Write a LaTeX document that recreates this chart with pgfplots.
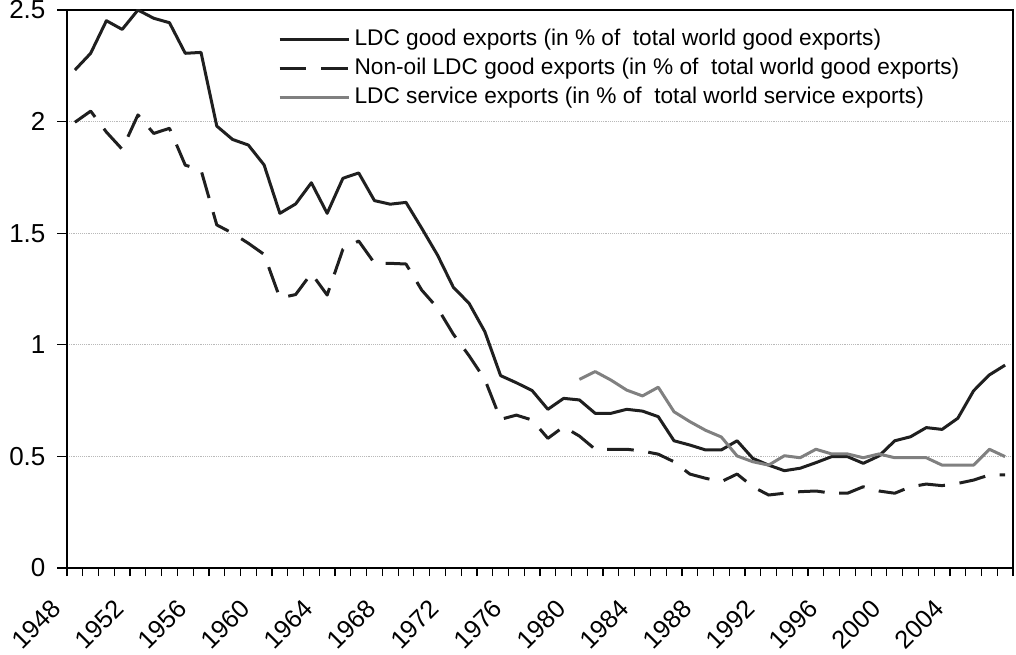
\documentclass[border=0pt]{standalone}
\usepackage{fontspec}
\setmainfont{Liberation Sans}
\usepackage{pgfplots}
\pgfplotsset{compat=1.18}

\newcommand{\legfont}{\fontsize{17pt}{20pt}\selectfont}
\newcommand{\tickfont}{\fontsize{19.5pt}{22pt}\selectfont}
\newcommand{\yearfont}{\fontsize{19pt}{22pt}\selectfont}

\begin{document}
\begin{tikzpicture}
\begin{axis}[
  scale only axis, width=709.5pt, height=418.5pt,
  xmin=1947.5, xmax=2007.5, ymin=0, ymax=2.5,
  axis line style={line width=0.9pt},
  xtick={1948,1952,...,2004},
  minor xtick={1947.5,1948.5,...,2007.5},
  major x tick style={draw=none},
  minor tick length=6pt,
  major tick length=7.5pt,
  tick style={black, line width=0.9pt},
  tick align=outside, xtick pos=bottom, ytick pos=left,
  ytick={0,0.5,...,2.5},
  ymajorgrids, grid style={gray!55, densely dotted, line width=0.6pt},
  /pgf/number format/.cd, 1000 sep={}, assume math mode=true, /pgfplots/.cd,
  tick label style={font=\tickfont, inner sep=0pt},
  x tick label style={font=\yearfont, xshift=-13.8pt, yshift=-19.9pt, rotate=45, anchor=east},
  y tick label style={anchor=east, xshift=-8.5pt},
  legend style={at={(rel axis cs:0.223,0.974)}, anchor=north west,
    draw=none, fill=none, inner sep=0pt, font=\legfont,
    nodes={text height=12.5pt, text depth=3.5pt, inner ysep=2.9pt, inner xsep=3pt}},
  legend cell align=left,
  legend image code/.code={\draw[#1] (0pt,0pt) -- (52pt,0pt);},
]
\addplot[line width=2.25pt, line join=round, color=black!88] coordinates {
(1948,2.231)(1949,2.306)(1950,2.452)(1951,2.413)(1952,2.500)(1953,2.463)
(1954,2.443)(1955,2.306)(1956,2.310)(1957,1.980)(1958,1.920)(1959,1.895)
(1960,1.806)(1961,1.589)(1962,1.631)(1963,1.726)(1964,1.589)(1965,1.746)
(1966,1.770)(1967,1.646)(1968,1.630)(1969,1.638)(1970,1.522)(1971,1.402)
(1972,1.258)(1973,1.186)(1974,1.059)(1975,0.862)(1976,0.830)(1977,0.795)
(1978,0.711)(1979,0.760)(1980,0.753)(1981,0.693)(1982,0.693)(1983,0.711)
(1984,0.703)(1985,0.678)(1986,0.570)(1987,0.551)(1988,0.529)(1989,0.529)
(1990,0.570)(1991,0.491)(1992,0.461)(1993,0.436)(1994,0.447)(1995,0.472)
(1996,0.499)(1997,0.499)(1998,0.469)(1999,0.502)(2000,0.570)(2001,0.588)
(2002,0.629)(2003,0.621)(2004,0.671)(2005,0.794)(2006,0.865)(2007,0.909)
};
\addlegendentry{LDC good exports (in \% of\ \ total world good exports)}
\addplot[line width=2.25pt, line join=round, color=black!88, dash pattern=on 20pt off 11pt] coordinates {
(1948,1.997)(1949,2.047)(1950,1.953)(1951,1.876)(1952,2.030)(1953,1.947)
(1954,1.970)(1955,1.805)(1956,1.783)(1957,1.537)(1958,1.500)(1959,1.455)
(1960,1.405)(1961,1.210)(1962,1.225)(1963,1.320)(1964,1.223)(1965,1.428)
(1966,1.465)(1967,1.366)(1968,1.365)(1969,1.362)(1970,1.245)(1971,1.165)
(1972,1.048)(1973,0.951)(1974,0.845)(1975,0.666)(1976,0.685)(1977,0.663)
(1978,0.581)(1979,0.633)(1980,0.591)(1981,0.532)(1982,0.532)(1983,0.532)
(1984,0.524)(1985,0.510)(1986,0.476)(1987,0.421)(1988,0.402)(1989,0.387)
(1990,0.421)(1991,0.364)(1992,0.327)(1993,0.335)(1994,0.342)(1995,0.345)
(1996,0.335)(1997,0.335)(1998,0.364)(1999,0.345)(2000,0.335)(2001,0.364)
(2002,0.376)(2003,0.369)(2004,0.379)(2005,0.394)(2006,0.417)(2007,0.417)
};
\addlegendentry{Non-oil LDC good exports (in \% of\ \ total world good exports)}
\addplot[line width=2.25pt, line join=round, color=black!50] coordinates {
(1980,0.845)(1981,0.880)(1982,0.842)(1983,0.797)(1984,0.771)(1985,0.810)
(1986,0.700)(1987,0.656)(1988,0.617)(1989,0.587)(1990,0.502)(1991,0.476)
(1992,0.461)(1993,0.503)(1994,0.494)(1995,0.532)(1996,0.511)(1997,0.511)
(1998,0.494)(1999,0.511)(2000,0.494)(2001,0.494)(2002,0.494)(2003,0.461)
(2004,0.461)(2005,0.461)(2006,0.532)(2007,0.499)
};
\addlegendentry{LDC service exports (in \% of\ \ total world service exports)}
\end{axis}
\pgfresetboundingbox
\path[use as bounding box] ([shift={(-50.25pt,-64.5pt)}]current axis.south west)
  rectangle ([shift={(2.25pt,7.5pt)}]current axis.north east);
\end{tikzpicture}
\end{document}
